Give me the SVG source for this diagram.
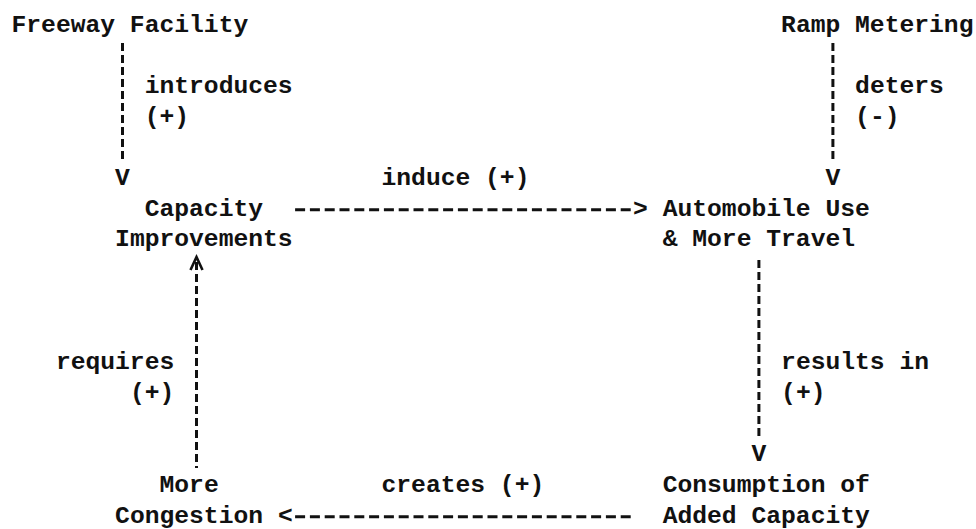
<svg xmlns="http://www.w3.org/2000/svg" width="976" height="529" viewBox="0 0 976 529">
  <defs>
    <style>
      text { font-family: "Liberation Mono", "DejaVu Sans Mono", monospace; font-size: 24.67px; font-weight: bold; fill: #111; }
      .vline { stroke: #111; stroke-width: 3; stroke-dasharray: 8 4; fill: none; }
      .hline { stroke: #111; stroke-width: 3; stroke-dasharray: 10 4.8; fill: none; }
      .chev { stroke: #111; stroke-width: 2.6; fill: none; stroke-linejoin: miter; }
    </style>
  </defs>
  <rect width="976" height="529" fill="#fff"/>

  <!-- nodes: monospace grid, column width 14.8px, row pitch 30.7px -->
  <g id="freeway-facility"><text x="11.5" y="31.5">Freeway Facility</text></g>
  <g id="ramp-metering"><text x="781.1" y="31.5">Ramp Metering</text></g>
  <g id="capacity-improvements">
    <text x="144.7" y="215.7">Capacity</text>
    <text x="115.1" y="246.4">Improvements</text>
  </g>
  <g id="automobile-use">
    <text x="662.7" y="215.7">Automobile Use</text>
    <text x="662.7" y="246.4">&amp; More Travel</text>
  </g>
  <g id="consumption">
    <text x="662.7" y="492">Consumption of</text>
    <text x="662.7" y="522.7">Added Capacity</text>
  </g>
  <g id="more-congestion">
    <text x="159.5" y="492">More</text>
    <text x="115.1" y="522.7">Congestion</text>
  </g>

  <!-- connectors with their labels -->
  <g id="connectors">
    <g id="edge-introduces">
      <line class="vline" x1="122.5" y1="43" x2="122.5" y2="159"/>
      <text x="115.1" y="185">V</text>
      <text x="144.7" y="92.9">introduces</text>
      <text x="144.7" y="123.6">(+)</text>
    </g>
    <g id="edge-deters">
      <line class="vline" x1="832.9" y1="43" x2="832.9" y2="159"/>
      <text x="825.5" y="185">V</text>
      <text x="855.1" y="92.9">deters</text>
      <text x="855.1" y="123.6">(-)</text>
    </g>
    <g id="edge-induce">
      <line class="hline" x1="295.1" y1="209.7" x2="630.7" y2="209.7"/>
      <text x="633.1" y="215.7">&gt;</text>
      <text x="381.5" y="185">induce (+)</text>
    </g>
    <g id="edge-results-in">
      <line class="vline" x1="758.9" y1="260" x2="758.9" y2="437"/>
      <text x="751.5" y="461.3">V</text>
      <text x="781.1" y="369.2">results in</text>
      <text x="781.1" y="399.9">(+)</text>
    </g>
    <g id="edge-creates">
      <line class="hline" x1="295.1" y1="516.7" x2="630.7" y2="516.7"/>
      <text x="277.9" y="522.7">&lt;</text>
      <text x="381.5" y="492">creates (+)</text>
    </g>
    <g id="edge-requires">
      <line class="vline" x1="196.5" y1="262" x2="196.5" y2="468"/>
      <polyline class="chev" points="190.5,270 196.5,257 202.5,270"/>
      <text x="55.9" y="369.2">requires</text>
      <text x="129.9" y="399.9">(+)</text>
    </g>
  </g>
</svg>
